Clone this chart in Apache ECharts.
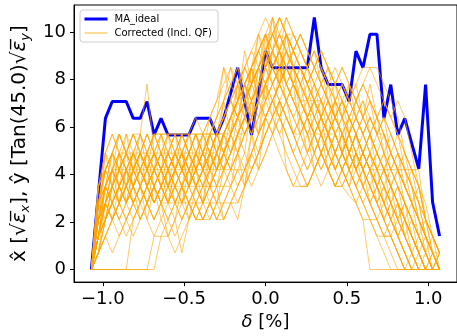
<!DOCTYPE html>
<html>
<head>
<meta charset="utf-8">
<script src="https://cdn.jsdelivr.net/npm/echarts@6/dist/echarts.min.js"></script>
<style>html,body{margin:0;padding:0;background:#fff}#c{width:457px;height:336px}</style>
</head>
<body>
<div id="c"></div>
<script>
// δ [%] sample positions
const deltas = [-1.07,-1.027,-0.984,-0.942,-0.899,-0.856,-0.813,-0.770,-0.728,-0.685,-0.642,
  -0.599,-0.556,-0.514,-0.471,-0.428,-0.385,-0.342,-0.300,-0.257,-0.214,
  -0.171,-0.128,-0.086,-0.043,0,0.043,0.086,0.128,0.171,0.214,
  0.257,0.300,0.342,0.385,0.428,0.471,0.514,0.556,0.599,0.642,
  0.685,0.728,0.770,0.813,0.856,0.899,0.942,0.984,1.027,1.07];
const xTicks = [-1.0,-0.5,0.0,0.5,1.0];
const yTicks = [0,2,4,6,8,10];
const maIdeal = [0,3.2,6.36,7.07,7.07,7.07,6.36,6.36,7.07,5.66,6.36,
  5.66,5.66,5.66,5.66,6.36,6.36,6.36,5.66,6.36,7.42,
  8.49,7.07,5.66,7.42,9.19,8.49,8.49,8.49,8.49,8.49,
  8.49,10.61,8.49,7.78,7.78,7.78,7.07,9.19,8.49,9.9,
  9.9,6.36,7.78,5.66,6.36,5.3,4.24,7.78,2.83,1.41];
const corrected = [
 [0,2.8,4.2,4.9,4.2,4.9,4.2,4.9,5.7,4.9,4.2, 4.9,4.2,4.9,4.2,4.9,5.7,4.9,5.7,6.4,7.1, 7.8,8.5,7.8,9.2,9.9,8.5,9.2,7.8,8.5,7.8, 7.1,7.8,7.1,6.4,7.1,6.4,5.7,6.4,5.7,4.9, 5.7,4.9,4.2,3.5,2.8,2.1,1.4,0.7,0,0.7],
 [0,1.4,3.5,2.8,3.5,4.2,3.5,4.2,3.5,2.8,3.5, 4.2,3.5,4.2,3.5,4.2,4.9,4.2,4.9,5.7,6.4, 5.7,7.1,7.8,8.5,9.2,10.6,9.2,8.5,7.8,7.1, 6.4,7.1,6.4,5.7,6.4,5.7,4.9,5.7,4.9,4.2, 4.9,4.2,4.9,4.2,3.5,2.8,2.1,1.4,0.7,0],
 [0,0,0,0,0,0,0,0,0,1.4,1.4, 2.1,2.8,2.1,2.8,3.5,2.8,3.5,4.2,4.9,5.7, 6.4,7.1,6.4,7.8,8.5,7.8,8.5,9.2,8.5,7.8, 7.1,6.4,5.7,6.4,5.7,4.9,5.7,4.9,4.2,4.9, 4.2,3.5,2.8,2.1,1.4,0.7,0,0,0,0],
 [0,0,0,0,0,0,2.1,2.8,3.5,2.8,3.5, 2.8,3.5,4.2,3.5,4.2,3.5,4.2,4.9,4.2,4.9, 5.7,6.4,7.1,7.8,8.5,9.2,9.9,9.2,8.5,7.8, 8.5,7.8,7.1,7.8,7.1,6.4,7.1,6.4,5.7,6.4, 5.7,4.9,4.2,4.9,4.2,3.5,2.8,2.1,1.4,0.7],
 [0,2.1,3.5,4.2,4.9,4.2,4.9,5.7,7.8,4.9,4.2, 3.5,4.2,3.5,2.8,3.5,4.2,4.9,4.2,4.9,5.7, 6.4,5.7,6.4,7.1,7.8,8.5,9.2,9.9,9.2,8.5, 7.8,7.1,6.4,5.7,4.9,5.7,4.9,4.2,3.5,2.8, 2.1,1.4,0.7,0,0,0,0,0,0,0],
 [0,0.7,1.4,2.1,1.4,2.1,2.8,2.1,2.8,2.1,2.8, 1.4,2.1,0.7,2.1,2.8,2.1,2.8,3.5,4.2,4.9, 5.7,6.4,5.7,6.4,7.1,7.8,8.5,7.8,7.1,6.4, 5.7,6.4,5.7,4.9,4.2,4.9,4.2,3.5,4.2,3.5, 2.8,2.1,2.8,2.1,1.4,0.7,1.4,0.7,0,0],
 [0,3.5,4.9,5.7,4.9,4.2,4.9,5.7,4.9,5.7,5.7, 4.9,5.7,4.9,5.7,4.9,5.7,6.4,7.1,8.5,7.8, 7.1,7.8,8.5,9.2,9.9,9.9,10.6,9.9,9.2,8.5, 7.8,8.5,9.2,8.5,7.8,7.1,7.8,7.1,7.8,8.5, 8.5,7.8,7.1,6.4,4.9,3.5,2.1,1.4,0.7,0],
 [0,2.1,2.8,3.5,2.8,3.5,2.8,3.5,4.2,3.5,4.2, 3.5,2.8,3.5,2.8,2.1,2.8,2.1,2.8,3.5,4.2, 4.9,5.7,6.4,7.1,7.8,8.5,7.8,8.5,7.8,7.1, 6.4,5.7,6.4,5.7,4.9,4.2,4.9,4.2,4.9,4.2, 3.5,4.2,3.5,2.8,2.1,1.4,0.7,0,0.7,0],
 [0,1.4,2.8,4.2,4.9,4.9,4.9,4.9,4.9,4.9,4.9, 4.9,4.9,4.9,4.9,4.9,4.9,4.9,4.9,5.7,6.4, 7.1,7.8,7.1,7.8,8.5,9.2,8.5,7.8,7.1,6.4, 5.7,5.7,5.7,5.7,5.7,4.9,5.7,4.9,5.7,4.9, 4.2,3.5,2.8,2.1,2.8,2.1,1.4,0.7,0,0],
 [0,2.8,3.5,4.2,4.2,4.2,4.2,4.2,4.2,4.2,4.2, 4.2,4.2,4.2,4.2,4.2,4.2,4.2,4.2,4.2,4.2, 4.2,4.2,3.5,4.2,4.9,5.7,6.4,5.7,4.9,4.2, 3.5,4.2,4.9,4.2,3.5,4.2,4.9,5.7,4.9,4.2, 4.2,4.2,4.2,4.2,4.2,4.2,4.2,2.1,0.7,0],
 [0,1.4,2.1,2.8,3.5,2.8,3.5,2.8,3.5,2.8,3.5, 3.5,3.5,3.5,3.5,3.5,3.5,3.5,3.5,3.5,3.5, 4.2,3.5,4.2,4.9,5.7,6.4,5.7,4.9,4.2,3.5, 3.5,4.2,4.9,4.2,3.5,3.5,4.2,4.9,4.2,3.5, 2.8,2.1,1.4,0.7,0,0,0,0,0,0],
 [0,0.7,1.4,2.1,2.8,2.1,2.8,2.1,2.8,2.1,2.8, 2.8,2.8,2.8,2.8,2.8,2.8,2.8,2.8,2.8,2.8, 2.8,3.5,4.2,4.9,5.7,6.4,7.1,6.4,5.7,4.9, 4.2,4.9,4.2,4.9,4.2,4.9,4.2,3.5,2.8,2.1, 2.1,1.4,1.4,0.7,0,0,0,0,0,0],
 [0,2.1,2.8,2.1,2.8,3.5,2.8,3.5,2.8,3.5,2.8, 3.5,2.8,3.5,4.2,3.5,4.2,4.9,4.2,4.9,5.7, 4.9,5.7,6.4,5.7,6.4,7.1,6.4,5.7,4.9,4.2, 4.9,4.2,4.9,4.2,3.5,3.5,3.1,2.8,2.1,0, 0,0,0,0,0,0,0,0,0,0],
 [0,1.4,2.8,3.5,2.8,3.5,4.2,3.5,2.8,3.5,2.8, 2.1,2.8,2.1,2.8,2.1,2.1,2.8,2.1,2.1,2.8, 3.5,4.2,4.9,5.7,6.4,7.1,7.8,7.1,6.4,5.7, 6.4,5.7,4.9,5.7,4.9,4.2,4.9,4.2,3.5,2.8, 3.5,2.8,2.1,1.4,2.1,1.4,0.7,0,0,0],
 [0,2.8,4.2,4.9,5.7,4.9,4.2,4.9,4.2,4.9,5.7, 5.7,5.7,5.7,5.7,5.7,5.7,5.7,5.7,5.7,6.4, 7.1,7.8,8.5,9.9,10.6,9.9,9.2,8.5,9.2,9.9, 9.2,8.5,7.8,7.1,6.4,7.1,6.4,5.7,6.4,5.7, 4.9,5.7,4.9,4.2,3.5,2.8,1.4,0.7,0,0],
 [0,2.1,3.5,4.2,3.5,4.2,3.5,4.2,4.9,4.2,4.9, 4.2,4.9,4.2,4.9,4.2,4.9,5.7,6.4,8.5,7.1, 6.4,7.1,7.8,8.5,9.2,8.5,7.8,8.5,7.8,7.1, 6.4,7.1,6.4,5.7,6.4,5.7,6.4,5.7,4.9,5.7, 4.9,4.2,3.5,4.2,3.5,2.8,2.1,1.4,0.7,0],
 [0,0.7,2.1,2.8,3.5,4.2,3.5,4.2,3.5,4.2,3.5, 4.2,4.9,4.2,4.9,4.2,4.9,4.2,4.9,5.7,6.4, 7.1,7.8,8.5,9.2,9.9,10.6,9.9,9.2,8.5,7.8, 7.1,6.4,5.7,6.4,5.7,4.9,4.2,4.9,4.2,4.9, 4.2,3.5,2.8,3.5,2.8,2.1,1.4,0.7,0,0.7],
 [0,1.4,2.8,2.1,2.8,3.5,4.2,3.5,4.2,4.9,4.2, 3.5,4.2,4.9,4.2,3.5,4.2,4.9,5.7,4.9,4.2, 4.9,3.5,5.7,4.2,6.4,7.1,7.8,7.1,6.4,7.1, 6.4,5.7,6.4,7.1,6.4,5.7,4.9,5.7,4.9,4.2, 3.5,2.8,2.1,1.4,0.7,0,0,0,0,0],
 [0,3.5,4.2,3.5,4.2,4.9,5.7,4.9,4.2,3.5,4.2, 4.9,4.2,3.5,4.2,4.9,4.2,4.9,5.7,6.4,7.1, 7.8,8.5,9.2,8.5,9.2,9.9,9.2,9.9,9.2,8.5, 7.8,7.1,7.8,7.1,6.4,7.1,6.4,7.1,6.4,5.7, 6.4,5.7,4.9,4.2,3.5,2.8,2.1,1.4,0.7,0],
 [0,0.7,1.4,2.1,2.8,2.1,2.8,3.5,2.8,2.1,2.8, 2.1,1.4,2.1,2.8,2.1,2.1,2.1,2.8,3.5,4.2, 3.5,4.2,4.9,4.2,4.9,5.7,4.9,4.2,3.5,4.2, 3.5,4.2,3.5,4.2,3.5,4.2,3.5,2.8,3.5,2.8, 2.1,1.4,2.1,1.4,0.7,0,0.7,0,0,0],
 [0,0,0,0,0,0,0,0,0,0,1.4, 1.4,2.1,2.8,3.5,2.8,3.5,4.2,3.5,4.2,4.9, 5.7,6.4,7.1,7.8,7.1,7.8,8.5,7.8,7.1,6.4, 5.7,6.4,5.7,4.9,5.7,4.9,4.2,4.9,4.2,3.5, 2.8,3.5,2.8,2.1,1.4,0.7,0,0.7,0,0],
 [0,2.8,3.5,4.2,3.5,2.8,3.5,4.2,3.5,4.2,4.9, 5.7,4.9,4.2,4.9,5.7,4.9,5.7,4.9,5.7,6.4, 7.1,8.5,7.8,8.5,9.9,9.2,10.6,9.9,9.2,8.5, 7.8,8.5,9.2,8.5,7.8,8.5,7.8,7.1,7.8,7.1, 6.4,7.1,6.4,5.7,4.9,4.2,2.8,1.4,0.7,0],
 [0,1.4,2.1,2.8,3.5,4.2,4.9,4.2,3.5,4.2,3.5, 2.8,3.5,4.2,3.5,4.2,4.9,4.2,4.9,4.2,4.9, 5.7,6.4,5.7,6.4,7.1,7.8,7.1,7.8,7.1,6.4, 5.7,4.9,5.7,4.9,5.7,4.9,4.2,3.5,2.8,2.1, 1.4,0.7,0,0,0,0,0,0,0,0],
 [0,2.1,4.2,4.9,4.2,4.9,5.7,4.9,5.7,4.9,4.2, 4.9,5.7,4.9,4.2,4.9,4.2,4.9,4.2,4.9,5.7, 6.4,7.1,7.8,8.5,7.8,8.5,9.2,8.5,9.2,9.9, 9.2,8.5,7.8,8.5,7.8,7.1,6.4,7.1,6.4,7.1, 6.4,5.7,4.9,4.2,3.5,4.2,3.5,2.1,1.4,0.7],
 [0,1.4,2.1,2.8,2.1,2.8,3.5,2.8,3.5,4.2,3.5, 4.2,3.5,2.8,3.5,2.8,3.5,2.8,2.1,2.8,3.5, 2.8,3.5,4.2,4.9,5.7,6.4,5.7,6.4,5.7,4.9, 4.2,4.9,5.7,4.9,4.2,3.5,4.2,3.5,2.8,3.5, 2.8,2.1,1.4,2.1,1.4,0.7,0,0,0,0],
 [0,2.8,3.5,2.8,3.5,4.2,4.9,4.2,4.9,5.7,4.9, 4.2,4.9,5.7,4.9,4.2,4.9,5.7,6.4,7.1,7.8, 8.5,7.8,8.5,9.2,8.5,9.2,9.9,9.2,8.5,9.2, 8.5,7.8,7.1,6.4,7.1,6.4,5.7,6.4,5.7,4.9, 4.2,4.9,4.2,3.5,2.8,2.1,1.4,2.1,1.4,0.7],
 [0,2.1,2.8,3.5,4.2,3.5,4.2,4.9,4.2,3.5,2.8, 3.5,4.2,3.5,4.2,3.5,2.8,3.5,4.2,4.9,5.7, 6.4,5.7,6.4,7.1,6.4,7.1,7.8,8.5,7.8,7.1, 6.4,5.7,4.9,4.2,4.9,4.2,3.5,4.2,4.9,4.2, 3.5,2.8,2.1,2.8,2.1,1.4,0.7,0,0,0],
 [0,0.7,2.1,2.8,3.5,2.8,2.1,2.8,3.5,2.8,3.5, 2.8,3.5,2.8,2.1,2.8,2.1,2.8,3.5,2.1,2.8, 3.5,4.2,4.9,5.7,6.4,5.7,6.4,7.1,7.8,7.1, 6.4,7.1,6.4,5.7,4.9,5.7,4.9,5.7,4.9,4.2, 4.9,4.2,3.5,2.8,2.1,1.4,0.7,0,0,0],
 [0,3.5,4.2,4.9,5.7,4.9,5.7,4.9,4.2,4.9,5.7, 4.9,4.2,4.9,5.7,6.4,5.7,6.4,7.1,7.8,8.5, 7.8,8.5,9.2,9.9,9.2,8.5,9.2,9.9,9.9,9.2, 8.5,9.2,8.5,7.8,8.5,7.8,7.1,7.8,8.5,8.5, 7.8,7.1,6.4,7.1,6.4,4.9,3.5,2.1,0.7,0],
 [0,1.4,2.8,3.5,4.2,3.5,2.8,3.5,4.2,4.9,4.2, 3.5,4.2,4.9,4.2,4.9,4.2,3.5,4.2,4.9,5.7, 6.4,7.1,6.4,7.1,7.8,7.1,7.8,7.1,6.4,5.7, 6.4,5.7,4.9,5.7,4.9,4.2,3.5,2.8,2.1,2.1, 1.4,1.4,1.4,0.7,0,0,0,0,0,0],
 [0,2.1,3.5,4.2,3.5,4.2,3.5,4.2,4.9,4.2,3.5, 4.2,4.9,4.2,3.5,4.2,4.9,4.2,4.9,5.7,4.9, 5.7,6.4,7.1,7.8,8.5,7.8,7.1,4.2,3.5,3.5, 3.5,4.2,4.9,5.7,4.9,5.7,4.9,4.2,4.9,5.7, 4.9,4.2,3.5,2.8,2.1,2.8,2.1,1.4,0.7,0],
 [0,2.8,4.2,4.9,4.2,3.5,4.2,4.9,4.2,4.9,4.2, 4.9,4.2,4.9,5.7,4.9,5.7,4.9,5.7,6.4,7.1, 6.4,7.1,7.8,8.5,9.2,9.9,10.6,9.9,9.2,8.5, 7.8,8.5,7.8,7.1,6.4,5.7,6.4,5.7,6.4,5.7, 4.9,4.2,4.9,4.2,3.5,2.8,2.1,1.4,0.7,0.7],
 [0,1.4,2.8,2.1,2.8,3.5,2.8,3.5,2.8,3.5,4.2, 3.5,4.2,3.5,4.2,4.9,4.2,4.9,5.7,4.9,5.7, 6.4,7.1,7.8,7.1,7.8,8.5,7.8,7.1,7.8,7.1, 6.4,5.7,6.4,5.7,6.4,5.7,4.9,5.7,4.9,4.2, 3.5,4.2,3.5,2.8,2.1,1.4,0.7,0,0,0],
 [0,2.1,3.5,4.9,5.7,4.9,5.7,5.7,4.9,5.7,5.7, 5.7,5.7,5.7,5.7,5.7,5.7,5.7,5.7,5.7,5.7, 6.4,7.1,7.8,8.5,9.2,8.5,9.2,8.5,7.8,7.1, 7.1,7.1,7.1,6.4,7.1,6.4,7.1,6.4,5.7,6.4, 5.7,5.7,4.9,4.2,4.9,4.2,3.5,2.8,1.4,0.7],
 [0,0.7,1.4,0.7,1.4,2.1,1.4,2.1,2.8,3.5,2.8, 3.5,2.8,3.5,2.8,3.5,4.2,3.5,4.2,4.9,4.2, 4.9,5.7,6.4,7.1,6.4,7.1,7.8,8.5,7.8,8.5, 7.8,7.1,6.4,7.1,6.4,5.7,4.9,4.2,4.9,4.2, 3.5,2.8,3.5,2.8,2.1,1.4,0.7,1.4,0.7,0],
 [0,2.8,3.5,4.2,4.9,4.2,4.9,4.2,3.5,4.2,4.9, 4.2,4.9,4.2,4.9,5.7,4.9,4.2,4.9,5.7,6.4, 7.1,7.8,7.1,8.5,9.2,9.9,9.2,10.6,9.9,9.2, 8.5,9.2,8.5,7.8,7.1,7.8,7.1,6.4,5.7,6.4, 5.7,6.4,5.7,4.9,4.2,3.5,2.8,2.1,1.4,0.7],
 [0,1.4,2.1,2.8,2.1,1.4,2.1,2.8,2.1,1.4,2.1, 1.4,0.7,1.4,2.1,2.8,2.1,2.8,2.1,2.8,3.5, 4.2,4.9,4.2,4.9,5.7,6.4,7.1,6.4,5.7,6.4, 5.7,4.9,4.2,4.9,4.2,4.9,5.7,4.9,4.2,3.5, 2.8,2.1,1.4,0.7,0,0.7,0,0,0,0],
 [0,2.1,2.8,3.5,4.2,4.9,4.2,4.9,4.2,3.5,4.2, 3.5,4.2,4.9,4.2,3.5,2.8,3.5,2.8,2.1,2.8, 2.1,3.5,4.9,5.7,6.4,7.1,6.4,5.7,4.9,5.7, 4.9,5.7,6.4,5.7,6.4,5.7,4.9,4.2,3.5,4.2, 3.5,2.8,2.1,1.4,0.7,0,0,0,0,0],
 [0,2.1,4.9,3.5,4.9,2.8,4.2,3.5,4.9,3.5,4.2, 2.8,4.2,4.9,3.5,4.2,2.8,4.9,4.2,5.7,4.9, 6.4,7.8,6.4,8.5,7.1,9.2,7.8,9.9,8.5,7.1, 7.8,6.4,7.1,5.7,7.1,4.9,6.4,5.7,4.9,5.7, 4.2,4.9,3.5,2.8,1.4,2.1,0.7,0,0,0],
 [0,1.4,3.5,4.9,4.2,5.7,4.2,4.9,3.5,4.9,4.2, 5.7,4.2,4.9,3.5,4.9,4.2,5.7,4.9,7.1,5.7, 7.8,6.4,8.5,7.1,9.9,8.5,9.2,7.8,8.5,6.4, 7.1,5.7,6.4,4.9,5.7,6.4,4.9,5.7,4.2,4.9, 3.5,4.2,2.8,3.5,2.1,1.4,0.7,0,0.7,0],
 [0,2.8,2.1,3.5,2.8,4.2,2.8,3.5,2.1,3.5,2.8, 4.2,2.8,3.5,2.1,3.5,2.8,4.2,3.5,4.9,4.2, 5.7,4.9,7.1,5.7,7.8,6.4,8.5,7.1,7.8,5.7, 6.4,4.9,5.7,4.2,4.9,5.7,4.2,4.9,3.5,4.2, 2.8,3.5,2.1,1.4,2.1,0.7,0,0,0,0],
 [0,3.5,4.9,4.2,5.7,4.9,4.2,5.7,4.2,4.9,3.5, 4.9,4.2,5.7,4.9,5.7,4.2,5.7,6.4,7.1,8.5, 7.1,9.2,7.8,9.9,8.5,10.6,8.5,9.2,7.8,8.5, 7.1,7.8,6.4,7.8,6.4,7.1,5.7,7.1,6.4,7.8, 6.4,5.7,4.2,4.9,3.5,2.8,2.1,0.7,0,0],
 [0,0.7,2.8,2.1,3.5,2.8,3.5,2.1,2.8,3.5,2.1, 2.8,2.1,3.5,2.8,2.1,2.8,3.5,2.8,4.2,3.5, 4.9,4.2,5.7,4.9,6.4,5.7,7.1,6.4,5.7,4.9, 5.7,4.2,4.9,4.2,3.5,4.2,3.5,4.9,4.2,3.5, 4.2,2.8,2.1,2.8,1.4,0.7,0,0,0,0],
 [0,2.1,3.5,2.8,4.2,4.9,3.5,4.2,4.9,4.2,5.7, 4.2,4.9,4.2,5.7,4.2,4.9,4.2,5.7,6.4,5.7, 7.1,6.4,7.8,8.5,9.2,7.8,8.5,9.9,8.5,7.8, 8.5,7.1,6.4,7.1,5.7,6.4,5.7,6.4,7.1,6.4, 5.7,6.4,4.9,5.7,4.2,3.5,2.1,1.4,0,0.7],
 [0,1.4,2.1,3.5,4.2,3.5,4.9,3.5,4.2,2.8,3.5, 2.8,3.5,2.8,4.2,3.5,4.2,3.5,4.9,4.2,5.7, 4.9,6.4,5.7,7.1,7.8,7.1,6.4,7.1,5.7,6.4, 4.9,5.7,4.9,5.7,4.2,4.9,4.2,3.5,4.2,2.8, 3.5,2.1,2.8,1.4,0.7,0,0,0,0,0],
 [0,2.8,4.2,3.5,4.9,4.2,3.5,4.9,5.7,4.9,4.2, 4.9,5.7,4.2,4.9,5.7,4.9,6.4,5.7,7.1,7.8, 8.5,7.1,8.5,9.2,9.9,9.2,9.9,10.6,9.9,9.2, 8.5,7.8,8.5,7.1,7.8,6.4,7.8,6.4,7.1,5.7, 6.4,4.9,5.7,4.9,4.2,2.8,3.5,2.1,1.4,0],
 [0,1.4,2.8,4.2,3.5,2.8,4.2,3.5,2.8,4.2,3.5, 2.8,4.2,3.5,4.9,3.5,4.2,4.9,4.2,5.7,6.4, 7.1,7.8,7.1,6.4,7.8,8.5,7.8,9.2,8.5,7.8, 7.1,6.4,7.1,6.4,5.7,4.9,5.7,4.9,4.2,4.9, 4.2,3.5,4.2,3.5,2.8,2.1,1.4,0.7,1.4,0.7],
 [0,2.1,2.8,4.2,2.8,3.5,4.9,4.2,3.5,4.2,4.9, 3.5,4.9,4.2,3.5,4.9,4.2,4.9,5.7,4.9,6.4, 7.8,7.1,7.8,8.5,7.8,9.2,8.5,7.8,7.1,7.8, 6.4,7.1,5.7,6.4,5.7,4.9,5.7,4.2,4.9,4.2, 3.5,2.8,3.5,2.1,2.8,1.4,0.7,0,0,0],
 [0,0.7,2.1,3.5,2.8,4.2,3.5,2.8,3.5,4.2,4.9, 4.2,3.5,4.2,4.9,4.2,3.5,4.9,5.7,6.4,7.1, 6.4,7.8,8.5,7.8,9.2,9.9,9.2,8.5,9.2,8.5, 7.8,7.1,7.8,7.1,6.4,7.1,6.4,5.7,4.9,5.7, 4.9,4.2,3.5,4.2,2.8,2.1,1.4,0.7,0,0],
 [0,3.5,4.2,4.9,3.5,4.9,4.2,4.9,4.2,5.7,4.9, 4.2,4.9,5.7,4.9,4.2,5.7,4.9,4.2,4.9,5.7, 6.4,7.1,8.5,7.1,8.5,9.2,8.5,9.2,9.9,9.2, 8.5,9.2,7.8,8.5,7.1,7.8,7.1,7.8,6.4,7.1, 5.7,6.4,5.7,4.9,4.2,3.5,2.8,1.4,0.7,0],
 [0,1.4,3.5,2.8,2.1,2.8,3.5,4.2,3.5,2.8,3.5, 4.2,3.5,2.8,3.5,4.2,3.5,4.2,4.9,4.2,4.9, 5.7,5.7,6.4,5.7,7.1,6.4,7.1,6.4,5.7,5.7, 4.9,5.7,4.9,4.2,4.9,4.2,4.9,4.2,3.5,2.8, 2.1,2.8,2.1,1.4,0.7,0,0,0,0,0],
 [0,2.8,4.9,5.7,4.9,5.7,4.9,4.2,4.9,5.7,4.9, 5.7,4.9,5.7,4.9,5.7,4.9,5.7,4.9,5.7,6.4, 7.1,7.8,8.5,9.2,8.5,9.9,10.6,9.9,9.2,9.9, 9.2,8.5,9.2,8.5,7.8,8.5,7.8,7.1,7.8,7.1, 6.4,7.1,6.4,5.7,4.9,4.2,3.5,2.1,1.4,0.7]
];

const FONT = 'DejaVu Sans';
const pairs = arr => arr.map((v, i) => [deltas[i], v]);
const series = [{
  name: 'MA_ideal', type: 'line', data: pairs(maIdeal), symbol: 'none',
  lineStyle: { color: '#0000ff', width: 3 }, itemStyle: { color: '#0000ff' }, z: 2
}];
corrected.forEach(arr => series.push({
  name: 'Corrected (Incl. QF)', type: 'line', data: pairs(arr), symbol: 'none',
  lineStyle: { color: '#ffa500', width: 1, opacity: 0.6 }, itemStyle: { color: '#ffa500' }, z: 3
}));
const fmt = v => (v < 0 ? '\u2212' : '') + Math.abs(v).toFixed(1);
const chart = echarts.init(document.getElementById('c'), null, { renderer: 'canvas' });
chart.setOption({
  animation: false,
  backgroundColor: '#fff',
  textStyle: { fontFamily: FONT },
  grid: { left: 74, right: -4, top: 5, bottom: 52, show: true, borderColor: '#000', borderWidth: 1, containLabel: false },
  legend: {
    data: [
      { name: 'MA_ideal', itemStyle: { opacity: 0 }, lineStyle: { color: '#0000ff', width: 3, opacity: 1 } },
      { name: 'Corrected (Incl. QF)', itemStyle: { opacity: 0 }, lineStyle: { color: '#ffa500', width: 1, opacity: 0.8 } }
    ],
    orient: 'vertical', left: 80, top: 10,
    padding: [4, 6, 4, 3], itemWidth: 23, itemHeight: 10, itemGap: 4,
    backgroundColor: 'rgba(255,255,255,0.8)', borderColor: '#cccccc', borderWidth: 1, borderRadius: 3,
    textStyle: { fontFamily: FONT, fontSize: 10, color: '#000', padding: [0, 0, 0, 2] }
  },
  xAxis: {
    type: 'value', min: -1.177, max: 1.177,
    name: '{i|\u03b4} [%]', nameLocation: 'middle', nameGap: 29,
    nameTextStyle: { fontFamily: FONT, fontSize: 18, color: '#000',
      rich: { i: { fontFamily: FONT, fontSize: 18, fontStyle: 'italic', color: '#000' } } },
    axisLine: { show: true, onZero: false, lineStyle: { color: '#000', width: 1 } },
    axisTick: { show: true, length: 4, customValues: xTicks, lineStyle: { color: '#000' } },
    axisLabel: { customValues: xTicks, formatter: fmt, fontFamily: FONT, fontSize: 18, color: '#000', margin: 8 },
    splitLine: { show: false }
  },
  yAxis: {
    type: 'value', min: -0.53, max: 11.13,
    name: '{a|x\u0302 [\u221a}{e|\u03b5\u0305}{s|x}{a|], \u0177 [Tan(45.0)\u221a}{e|\u03b5\u0305}{s|y}{a|]}',
    nameLocation: 'middle', nameGap: 42,
    nameTextStyle: {
      fontFamily: FONT, fontSize: 20, color: '#000',
      rich: {
        a: { fontFamily: FONT, fontSize: 20, color: '#000' },
        e: { fontFamily: FONT, fontSize: 20, fontStyle: 'italic', color: '#000' },
        s: { fontFamily: FONT, fontSize: 13, fontStyle: 'italic', color: '#000', padding: [11, 0, 0, 0] }
      }
    },
    axisLine: { show: true, onZero: false, lineStyle: { color: '#000', width: 1 } },
    axisTick: { show: true, length: 4, customValues: yTicks, lineStyle: { color: '#000' } },
    axisLabel: { customValues: yTicks, fontFamily: FONT, fontSize: 18, color: '#000', margin: 8 },
    splitLine: { show: false }
  },
  series: series
});
</script>
</body>
</html>
